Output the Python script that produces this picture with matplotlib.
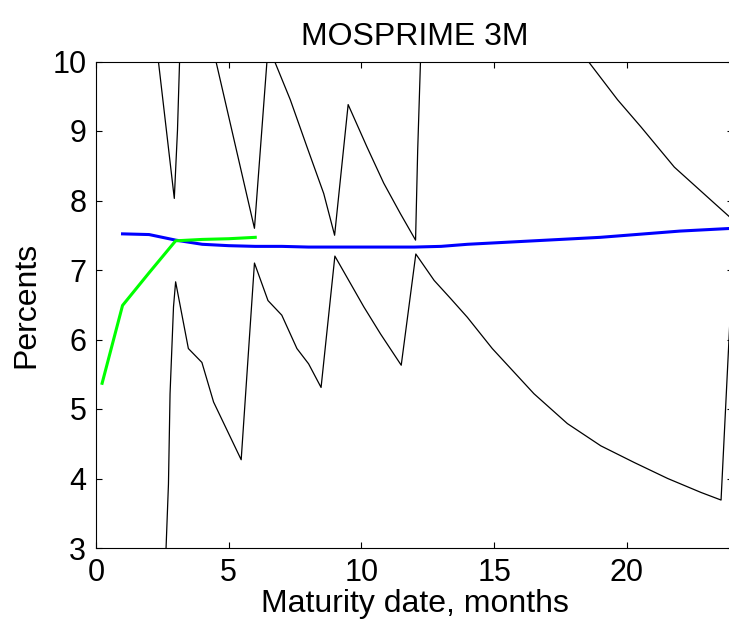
import numpy as np
import matplotlib
matplotlib.use('Agg')
import matplotlib.pyplot as plt

plt.rcParams['font.family'] = ['Liberation Sans', 'DejaVu Sans']

TITLE = 'MOSPRIME 3M'
X_LABEL = 'Maturity date, months'
Y_LABEL = 'Percents'

# Upper black bound; NaN splits the pieces that leave the top of the view.
upper_x = [2.2, 2.95, 3.07, 3.18, np.nan,
           4.4, 5.97, 6.48, np.nan,
           6.55, 7.32, 7.95, 8.58, 8.99, 9.5, 10.21, 10.84, 11.47, 12.04,
           12.12, 12.25, np.nan,
           18.2, 18.55, 19.65, 20.53, 21.79, 23.3, 24.0]
upper_y = [10.5, 8.03, 9.01, 10.4, np.nan,
           10.2, 7.6, 10.2, np.nan,
           10.17, 9.45, 8.77, 8.10, 7.50, 9.38, 8.77, 8.25, 7.81, 7.43,
           8.72, 10.3, np.nan,
           10.18, 10.0, 9.45, 9.06, 8.48, 7.96, 7.72]

# Lower black bound.
lower_x = [2.6, 2.73, 2.79, 2.92, 3.0, 3.48, 3.99, 4.43, 5.47, 5.97, 6.48,
           7.0, 7.57, 8.01, 8.48, 9.0, 10.09, 10.72, 11.5, 12.05, 12.74,
           13.36, 13.99, 14.93, 16.5, 17.76, 19.02, 20.28, 21.54, 22.79,
           23.55, 23.9]
lower_y = [2.6, 3.92, 5.22, 6.47, 6.83, 5.87, 5.67, 5.10, 4.27, 7.10, 6.56,
           6.35, 5.87, 5.65, 5.31, 7.2, 6.47, 6.08, 5.63, 7.23, 6.85,
           6.59, 6.32, 5.87, 5.22, 4.79, 4.47, 4.23, 4.00, 3.80,
           3.69, 6.4]

# Blue curve, monthly.
curve_x = np.arange(1, 25)
curve_y = [7.52, 7.51, 7.43, 7.37, 7.35, 7.34, 7.34, 7.33, 7.33, 7.33,
           7.33, 7.33, 7.34, 7.37, 7.39, 7.41, 7.43, 7.45, 7.47, 7.50,
           7.53, 7.56, 7.58, 7.60]

# Green fixings.
fix_x = [0.23, 1.0, 2.0, 3.0, 4.0, 5.0, 6.0]
fix_y = [5.37, 6.49, 6.96, 7.42, 7.44, 7.45, 7.47]

X_TICKS = [0, 5, 10, 15, 20]
Y_TICKS = [3, 4, 5, 6, 7, 8, 9, 10]

fig = plt.figure(figsize=(7.29, 6.22), dpi=100)
ax = fig.add_axes([96 / 729, 1 - 548 / 622, (733 - 96) / 729, (548 - 61.5) / 622])

ax.plot(upper_x, upper_y, color='black', lw=0.9)
ax.plot(lower_x, lower_y, color='black', lw=0.9)
ax.plot(curve_x, curve_y, color='#0000ff', lw=2.2)
ax.plot(fix_x, fix_y, color='#00ff00', lw=2.2)

ax.set_xlim(0, 24)
ax.set_ylim(3, 10)
ax.set_xticks(X_TICKS)
ax.set_yticks(Y_TICKS)
ax.tick_params(direction='in', length=4.5, width=0.8, top=True, right=True,
               labelsize=22, pad=7)
for s in ax.spines.values():
  s.set_linewidth(0.8)

ax.set_title(TITLE, fontsize=23, pad=12)
ax.set_xlabel(X_LABEL, fontsize=23, labelpad=1)
ax.set_ylabel(Y_LABEL, fontsize=23, labelpad=8)

fig.savefig('out.png', dpi=100)
